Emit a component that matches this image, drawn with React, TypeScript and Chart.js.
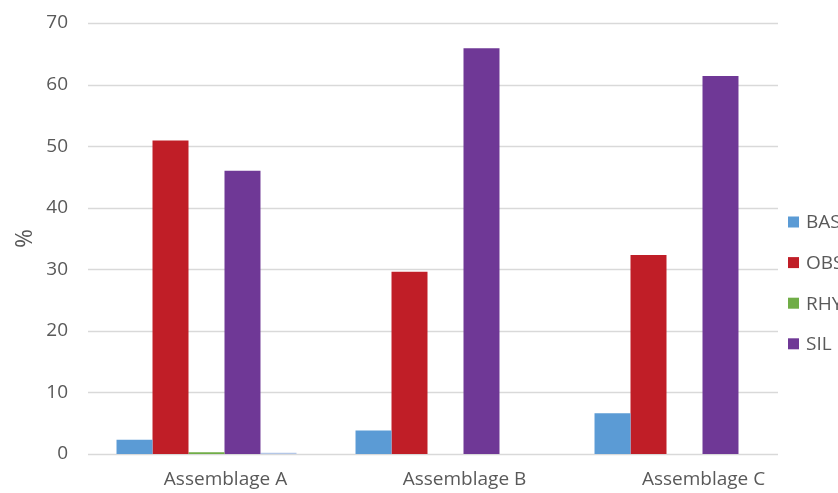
import React, { useEffect, useRef } from "react";
import { Chart, registerables } from "chart.js";

Chart.register(...registerables);

// Categories and series (% of assemblage)
const categories = ["Assemblage A", "Assemblage B", "Assemblage C"];
const seriesLabels = ["BAS", "OBS", "RHY", "SIL", "OTH"];
const basValues = [2.3, 3.8, 6.6];
const obsValues = [50.9, 29.6, 32.3];
const rhyValues = [0.3, 0, 0];
const silValues = [46.0, 65.9, 61.4];
const othValues = [0.2, 0, 0];
const seriesColors = ["#5B9BD5", "#C01E27", "#70AD47", "#6F3896", "#B4C7E7"];
const legendLabels = ["BAS", "OBS", "RHY", "SIL"];

const TEXT = "#595959";
const GRID = "#D9D9D9";
const FONT = "'Open Sans', 'Noto Sans', sans-serif";

// Horizontal value gridlines, stopping short of the legend column
const gridPlugin = {
  id: "valueGrid",
  beforeDatasetsDraw(chart: any) {
    const { ctx, chartArea } = chart;
    const y = chart.scales.y;
    const right = chartArea.right - 26;
    ctx.save();
    ctx.strokeStyle = GRID;
    ctx.lineWidth = 1.5;
    y.ticks.forEach((t: any) => {
      const py = Math.round(y.getPixelForValue(t.value)) + 0.5;
      ctx.beginPath();
      ctx.moveTo(chartArea.left + 1, py);
      ctx.lineTo(right, py);
      ctx.stroke();
    });
    ctx.restore();
  },
};

// Vertical legend on the right edge
const sideLegend = {
  id: "sideLegend",
  afterDraw(chart: any) {
    const { ctx, chartArea } = chart;
    const x = chartArea.right - 16;
    const top = 222;
    const step = 40.6;
    ctx.save();
    ctx.font = `19px ${FONT}`;
    ctx.textBaseline = "middle";
    ctx.textAlign = "left";
    legendLabels.forEach((name, i) => {
      const ds = chart.data.datasets.find((d: any) => d.label === name);
      const cy = top + i * step;
      ctx.fillStyle = ds.backgroundColor;
      ctx.fillRect(x, cy - 5.5, 11, 11);
      ctx.fillStyle = TEXT;
      ctx.fillText(name, x + 18, cy + 1);
    });
    ctx.restore();
  },
};

export default function App() {
  const canvasRef = useRef<HTMLCanvasElement>(null);

  useEffect(() => {
    const canvas = canvasRef.current;
    if (!canvas) return;
    const values = [basValues, obsValues, rhyValues, silValues, othValues];
    const chart = new Chart(canvas, {
      type: "bar",
      data: {
        labels: categories,
        datasets: seriesLabels.map((label, i) => ({
          label,
          data: values[i],
          backgroundColor: seriesColors[i],
          borderWidth: 0,
          categoryPercentage: 0.753,
          barPercentage: 1,
        })),
      },
      options: {
        responsive: false,
        maintainAspectRatio: false,
        animation: false,
        devicePixelRatio: 1,
        layout: { padding: { left: 0, right: 34, top: 23, bottom: 0 } },
        plugins: {
          legend: { display: false },
          tooltip: { enabled: false },
        },
        scales: {
          x: {
            grid: { display: false, drawTicks: false },
            border: { display: false },
            ticks: {
              color: TEXT,
              font: { family: FONT, size: 19 },
              padding: 14,
              labelOffset: 19,
              maxRotation: 0,
              autoSkip: false,
            },
            afterFit(scale: any) {
              scale.height = 39;
              scale.paddingLeft = 0;
              scale.paddingRight = 0;
            },
          },
          y: {
            min: 0,
            max: 70,
            grid: { display: false, drawTicks: false },
            border: { display: false },
            ticks: {
              stepSize: 10,
              color: TEXT,
              font: { family: FONT, size: 19 },
              padding: 19,
            },
            title: {
              display: true,
              text: "%",
              color: TEXT,
              font: { family: FONT, size: 23 },
              padding: { top: 12, bottom: 0 },
            },
            afterFit(scale: any) {
              scale.width = 87;
              scale.paddingTop = 0;
              scale.paddingBottom = 0;
            },
          },
        },
      },
      plugins: [gridPlugin, sideLegend],
    });
    return () => chart.destroy();
  }, []);

  return (
    <div style={{ position: "fixed", left: 0, top: 0, width: 838, height: 493, background: "#fff" }}>
      <canvas ref={canvasRef} width={838} height={493} />
    </div>
  );
}
